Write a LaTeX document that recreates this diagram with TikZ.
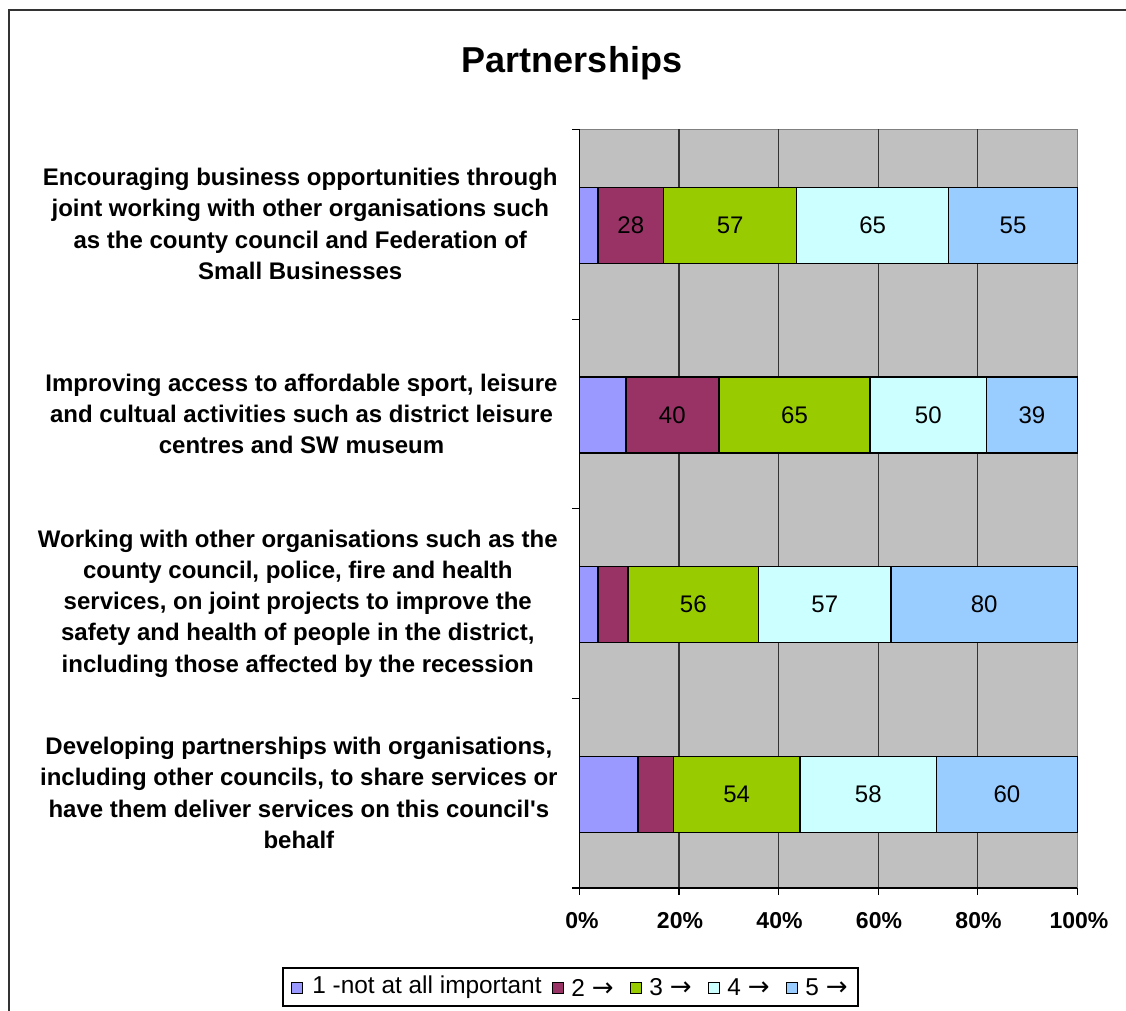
\documentclass[tikz,border=0pt]{standalone}
\usepackage{fontspec}
\setmainfont{Liberation Sans}[Ligatures=TeXOff]
\newfontfamily\arrowfont{DejaVu Sans}
\definecolor{cA}{HTML}{9999FF}
\definecolor{cB}{HTML}{993366}
\definecolor{cC}{HTML}{99CC00}
\definecolor{cD}{HTML}{CCFFFF}
\definecolor{cE}{HTML}{99CCFF}
\definecolor{plotbg}{HTML}{C0C0C0}
\definecolor{plotborder}{HTML}{808080}
\definecolor{framecol}{HTML}{333333}
\newcommand\rarr{{\arrowfont\fontsize{13}{14}\selectfont →}}
\tikzset{
  seg/.style={draw=black,line width=0.75pt},
  val/.style={font=\fontsize{12}{14}\selectfont,inner sep=0pt},
  cat/.style={font=\fontsize{12}{15.6}\selectfont\bfseries,align=center,inner sep=0pt,anchor=east},
  pct/.style={font=\fontsize{11.5}{13}\selectfont\bfseries,inner sep=0pt},
  gridln/.style={draw=black!80,line width=0.6pt},
  axisln/.style={draw=black,line width=0.6pt},
  sw/.style={draw=black,line width=0.6pt,minimum size=5.8pt,inner sep=0pt},
  leg/.style={font=\fontsize{12.2}{14}\selectfont,inner sep=0pt,anchor=west},
}
\begin{document}
\begin{tikzpicture}[x=0.5pt,y=-0.5pt]
\useasboundingbox (0,0) rectangle (1126,1011);
% outer frame (clipped by page)
\draw[framecol,line width=1pt] (8.5,1011) -- (8.5,10.5) -- (1126,10.5);
% title
\node[font=\fontsize{18}{21}\selectfont\bfseries] (title) at (572,63) {Partnerships};
% plot area
\fill[plotbg] (579.3,129.5) rectangle (1077.3,888);
\draw[plotborder,line width=0.6pt] (579.3,129.5) -- (1077.3,129.5) -- (1077.3,888);
\foreach \gx in {678.9,778.5,878.1,977.7} \draw[gridln] (\gx,129.5) -- (\gx,888);
% axes
\draw[axisln] (579.3,129.5) -- (579.3,888) -- (1077.3,888);
\foreach \ty in {129.5,319.1,508.7,698.4,888} \draw[axisln] (572,\ty) -- (579.3,\ty);
\foreach \tx in {579.3,678.9,778.5,878.1,977.7,1077.3} \draw[axisln] (\tx,888) -- (\tx,895);
% percent labels
\node[pct] (p0) at (582,921) {0\%};
\node[pct] (p20) at (680,921) {20\%};
\node[pct] (p40) at (779.5,921) {40\%};
\node[pct] (p60) at (879,921) {60\%};
\node[pct] (p80) at (978.5,921) {80\%};
\node[pct] (p100) at (1079,921) {100\%};
% bar 1
\def\ya{187.5}\def\yb{263.3}
\draw[seg,fill=cA] (579.3,\ya) rectangle (598.0,\yb);
\draw[seg,fill=cB] (598.0,\ya) rectangle (663.5,\yb);
\draw[seg,fill=cC] (663.5,\ya) rectangle (796.7,\yb);
\draw[seg,fill=cD] (796.7,\ya) rectangle (948.7,\yb);
\draw[seg,fill=cE] (948.7,\ya) rectangle (1077.3,\yb);
\node[val] (v1b) at (630.8,225.4) {28};
\node[val] (v1c) at (730.1,225.4) {57};
\node[val] (v1d) at (872.7,225.4) {65};
\node[val] (v1e) at (1013,225.4) {55};
% bar 2
\def\ya{377.1}\def\yb{452.9}
\draw[seg,fill=cA] (579.3,\ya) rectangle (625.8,\yb);
\draw[seg,fill=cB] (625.8,\ya) rectangle (718.9,\yb);
\draw[seg,fill=cC] (718.9,\ya) rectangle (870.2,\yb);
\draw[seg,fill=cD] (870.2,\ya) rectangle (986.5,\yb);
\draw[seg,fill=cE] (986.5,\ya) rectangle (1077.3,\yb);
\node[val] (v2b) at (672.3,415) {40};
\node[val] (v2c) at (794.5,415) {65};
\node[val] (v2d) at (928.3,415) {50};
\node[val] (v2e) at (1031.9,415) {39};
% bar 3
\def\ya{566.7}\def\yb{642.5}
\draw[seg,fill=cA] (579.3,\ya) rectangle (597.9,\yb);
\draw[seg,fill=cB] (597.9,\ya) rectangle (628.2,\yb);
\draw[seg,fill=cC] (628.2,\ya) rectangle (758.5,\yb);
\draw[seg,fill=cD] (758.5,\ya) rectangle (891.1,\yb);
\draw[seg,fill=cE] (891.1,\ya) rectangle (1077.3,\yb);
\node[val] (v3c) at (693.3,604.6) {56};
\node[val] (v3d) at (824.8,604.6) {57};
\node[val] (v3e) at (984.2,604.6) {80};
% bar 4
\def\ya{756.5}\def\yb{832.3}
\draw[seg,fill=cA] (579.3,\ya) rectangle (638.0,\yb);
\draw[seg,fill=cB] (638.0,\ya) rectangle (673.3,\yb);
\draw[seg,fill=cC] (673.3,\ya) rectangle (800.1,\yb);
\draw[seg,fill=cD] (800.1,\ya) rectangle (936.4,\yb);
\draw[seg,fill=cE] (936.4,\ya) rectangle (1077.3,\yb);
\node[val] (v4c) at (736.7,794.4) {54};
\node[val] (v4d) at (868.3,794.4) {58};
\node[val] (v4e) at (1006.9,794.4) {60};
% category labels
\node[cat] (cat1) at (558,224) {Encouraging business opportunities through\\joint working with other organisations such\\as the county council and Federation of\\Small Businesses};
\node[cat] (cat2) at (558,414) {Improving access to affordable sport, leisure\\and cultual activities such as district leisure\\centres and SW museum};
\node[cat] (cat3) at (558,603.5) {Working with other organisations such as the\\county council, police, fire and health\\services, on joint projects to improve the\\safety and health of people in the district,\\including those affected by the recession};
\node[cat] (cat4) at (558,793) {Developing partnerships with organisations,\\including other councils, to share services or\\have them deliver services on this council's\\behalf};
% legend
\draw[black,line width=0.6pt] (283,968) rectangle (858,1006);
\node[sw,fill=cA] (s1) at (297,988) {};
\node[leg] (l1) at (312,987.5) {1 -not at all important};
\node[sw,fill=cB] (s2) at (558,988) {};
\node[leg] (l2) at (571,987.5) {2 \rarr};
\node[sw,fill=cC] (s3) at (636,988) {};
\node[leg] (l3) at (649,987.5) {3 \rarr};
\node[sw,fill=cD] (s4) at (714,988) {};
\node[leg] (l4) at (727,987.5) {4 \rarr};
\node[sw,fill=cE] (s5) at (792,988) {};
\node[leg] (l5) at (805,987.5) {5 \rarr};
\end{tikzpicture}
\end{document}
